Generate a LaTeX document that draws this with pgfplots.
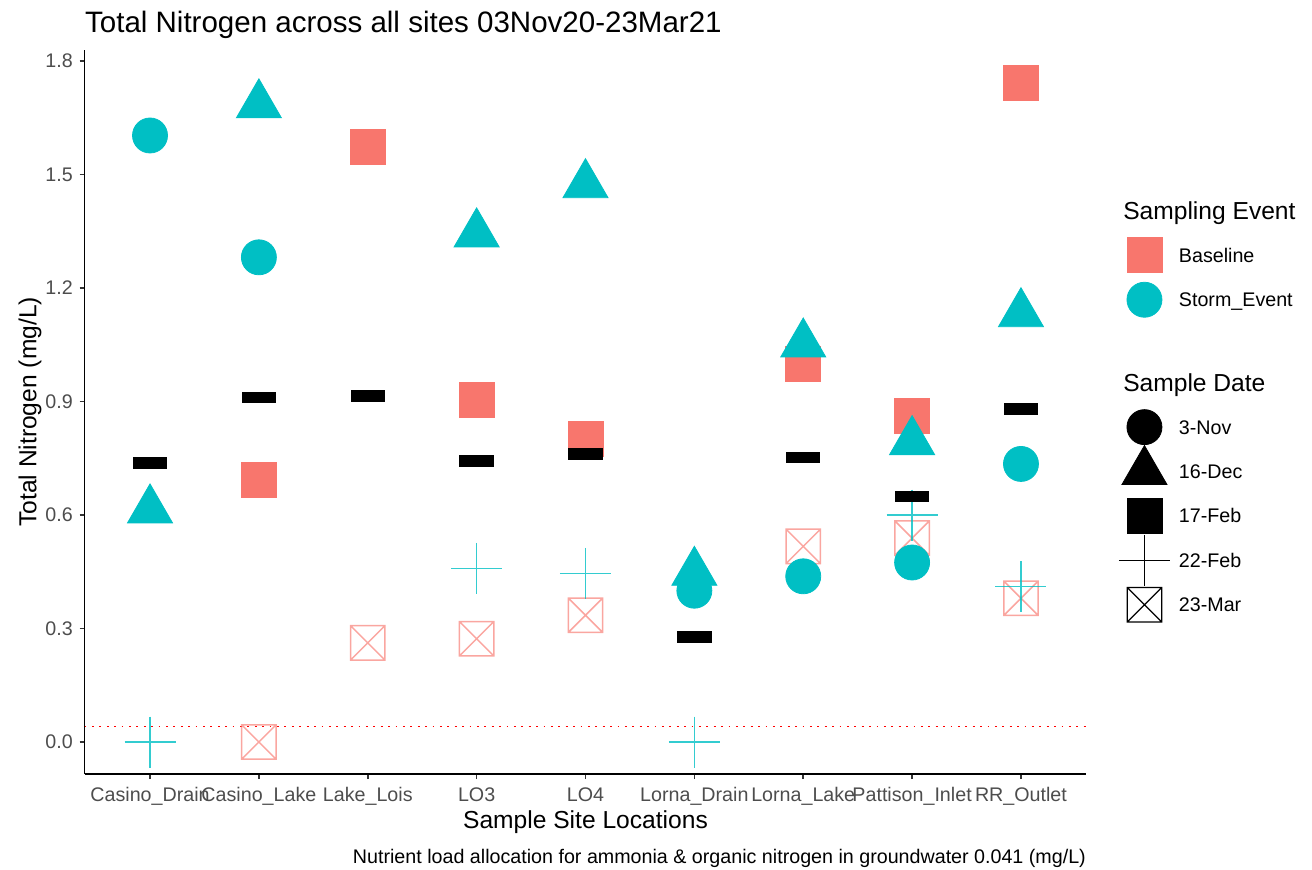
\documentclass[border=0pt]{standalone}
\usepackage{pgfplots}
\pgfplotsset{compat=1.18}
\usepackage{fontspec}
\setmainfont{Liberation Sans}
\usetikzlibrary{plotmarks}
\definecolor{cBase}{HTML}{F8766D}
\definecolor{cStorm}{HTML}{00BFC4}
\definecolor{grey30}{HTML}{4D4D4D}
\definecolor{grey20}{HTML}{333333}
\pgfdeclareplotmark{xbox}{%
  \pgfpathrectangle{\pgfpoint{-\pgfplotmarksize}{-\pgfplotmarksize}}{\pgfpoint{2\pgfplotmarksize}{2\pgfplotmarksize}}%
  \pgfpathmoveto{\pgfpoint{-\pgfplotmarksize}{-\pgfplotmarksize}}\pgfpathlineto{\pgfpoint{\pgfplotmarksize}{\pgfplotmarksize}}%
  \pgfpathmoveto{\pgfpoint{-\pgfplotmarksize}{\pgfplotmarksize}}\pgfpathlineto{\pgfpoint{\pgfplotmarksize}{-\pgfplotmarksize}}%
  \pgfusepathqstroke}
\pgfdeclareplotmark{dash}{%
  \pgfpathrectangle{\pgfpoint{-8.6pt}{-2.9pt}}{\pgfpoint{17.2pt}{5.8pt}}\pgfusepathqfill}
\newcommand{\ticksize}{\fontsize{9.84pt}{11.8pt}\selectfont}
\newcommand{\labsize}{\fontsize{12.3pt}{14.8pt}\selectfont}
\newcommand{\titsize}{\fontsize{14.76pt}{17.7pt}\selectfont}
\begin{document}
\begin{tikzpicture}
\path[use as bounding box] (-42.35pt,-47.4pt) rectangle (613.65pt,387.1pt);
\begin{axis}[
  at={(0pt,0pt)}, anchor=south west,
  width=500.8pt, height=362.3pt, scale only axis,
  xmin=0.4, xmax=9.6, ymin=-0.085, ymax=1.83,
  clip=false,
  axis x line*=bottom, axis y line*=left,
  axis line style={-, line width=0.8pt, black},
  tick align=outside, major tick length=2.5pt,
  tick style={grey20, line width=0.8pt},
  xtick={1,2,3,4,5,6,7,8,9},
  xticklabels={Casino\_Drain,Casino\_Lake,Lake\_Lois,LO3,LO4,Lorna\_Drain,Lorna\_Lake,Pattison\_Inlet,RR\_Outlet},
  ytick={0,0.3,0.6,0.9,1.2,1.5,1.8},
  /pgf/number format/assume math mode=true,
  yticklabel style={font=\ticksize, text=grey30, inner sep=0pt, anchor=east, xshift=-3.3pt,
    /pgf/number format/.cd, fixed, fixed zerofill, precision=1},
  xticklabel style={font=\ticksize, text=grey30, inner sep=0pt, anchor=north, text height=7.05pt, text depth=0pt, yshift=-3.9pt},
  xlabel={Sample Site Locations},
  ylabel={Total Nitrogen (mg/L)},
  xlabel style={at={(axis description cs:0.5,-0.0754)}, anchor=base, inner sep=0pt, font=\labsize, text=black},
  ylabel style={at={(axis description cs:-0.0545,0.5)}, anchor=center, rotate=0, inner sep=0pt, font=\labsize, text=black},
  title={Total Nitrogen across all sites 03Nov20-23Mar21},
  title style={at={(axis description cs:0,1.0065)}, anchor=base west, inner sep=0pt, font=\titsize, text=black},
  legend cell align=left,
  legend style={at={(1.0369,0.808)}, anchor=north west, draw=none, fill=none,
    inner sep=0pt, outer sep=0pt, row sep=0pt, column sep=0pt, font=\ticksize, text=black,
    nodes={inner sep=0pt, text height=7.05pt, text depth=0pt, anchor=west}},
]
% reference line
\addplot[red, line width=0.9pt, dash pattern=on 0.9pt off 2.8pt, forget plot] coordinates {(0.4,0.041) (9.6,0.041)};
% Baseline 17-Feb (squares)
\addplot[only marks, mark=square*, mark size=8.75pt, color=cBase, mark options={draw=none, fill=cBase}, forget plot]
  coordinates {(2,0.693) (3,1.573) (4,0.904) (5,0.801) (7,1.000) (8,0.863) (9,1.743)};
% Baseline 23-Mar (boxed x)
\addplot[only marks, mark=xbox, mark size=8.6pt, color=cBase, mark options={draw=cBase, line width=0.75pt, draw opacity=0.65}, forget plot]
  coordinates {(2,0.000) (3,0.262) (4,0.273) (5,0.335) (7,0.517) (8,0.539) (9,0.380)};
% Storm 3-Nov (circles)
\addplot[only marks, mark=*, mark size=8.75pt, color=cStorm, mark options={draw=none, fill=cStorm}, forget plot]
  coordinates {(1,1.603) (2,1.281) (6,0.400) (7,0.438) (8,0.4745) (9,0.735)};
% Storm 16-Dec (triangles)
\addplot[only marks, mark=triangle*, mark size=13pt, color=cStorm, mark options={draw=none, fill=cStorm}, forget plot]
  coordinates {(1,0.6135) (2,1.684) (4,1.343) (5,1.473) (6,0.4486) (7,1.052) (8,0.794) (9,1.132)};
% Storm 22-Feb (plus)
\addplot[only marks, mark=+, mark size=12.75pt, color=cStorm, mark options={draw=cStorm, line width=0.75pt, draw opacity=0.8}, forget plot]
  coordinates {(1,0.000) (4,0.459) (5,0.446) (6,0.000) (8,0.600) (9,0.4106)};
% 17-Feb black dashes
\addplot[only marks, mark=dash, color=black, mark options={fill=black, draw=none}, forget plot]
  coordinates {(1,0.738) (2,0.911) (3,0.915) (4,0.743) (5,0.7605) (6,0.278) (7,0.7516) (8,0.649) (9,0.8795)};
% legend
\addlegendimage{legend image code/.code={\path[draw=none,fill=none] (0pt,-11.1pt) rectangle (27.85pt,11.1pt);
  \node[overlay,anchor=west,inner sep=0pt,text height=8.8pt,text depth=0pt,font=\labsize,text=black,draw=none] at (0pt,0pt) {Sampling Event};}}
\addlegendentry{}
\addlegendimage{legend image code/.code={\path[draw=none,fill=none] (0pt,-11.1pt) rectangle (27.85pt,11.1pt);
  \draw[overlay,cBase] plot[only marks, mark=square*, mark size=8.75pt, mark options={draw=none,fill=cBase}] coordinates {(10.6pt,0pt)};}}
\addlegendentry{Baseline}
\addlegendimage{legend image code/.code={\path[draw=none,fill=none] (0pt,-11.1pt) rectangle (27.85pt,11.1pt);
  \draw[overlay,cStorm] plot[only marks, mark=*, mark size=8.75pt, mark options={draw=none,fill=cStorm}] coordinates {(10.6pt,0pt)};}}
\addlegendentry{Storm\_Event}
\addlegendimage{legend image code/.code={\path[draw=none,fill=none] (0pt,-9.65pt) rectangle (27.85pt,9.65pt);}}
\addlegendentry{}
\addlegendimage{legend image code/.code={\path[draw=none,fill=none] (0pt,-11.1pt) rectangle (27.85pt,11.1pt);
  \node[overlay,anchor=west,inner sep=0pt,text height=8.8pt,text depth=0pt,font=\labsize,text=black,draw=none] at (0pt,0pt) {Sample Date};}}
\addlegendentry{}
\addlegendimage{legend image code/.code={\path[draw=none,fill=none] (0pt,-11.1pt) rectangle (27.85pt,11.1pt);
  \draw[overlay,black] plot[only marks, mark=*, mark size=8.75pt, mark options={draw=none,fill=black}] coordinates {(10.6pt,0pt)};}}
\addlegendentry{3-Nov}
\addlegendimage{legend image code/.code={\path[draw=none,fill=none] (0pt,-11.1pt) rectangle (27.85pt,11.1pt);
  \draw[overlay,black] plot[only marks, mark=triangle*, mark size=13pt, mark options={draw=none,fill=black}] coordinates {(10.6pt,0pt)};}}
\addlegendentry{16-Dec}
\addlegendimage{legend image code/.code={\path[draw=none,fill=none] (0pt,-11.1pt) rectangle (27.85pt,11.1pt);
  \draw[overlay,black] plot[only marks, mark=square*, mark size=8.75pt, mark options={draw=none,fill=black}] coordinates {(10.6pt,0pt)};}}
\addlegendentry{17-Feb}
\addlegendimage{legend image code/.code={\path[draw=none,fill=none] (0pt,-11.1pt) rectangle (27.85pt,11.1pt);
  \draw[overlay,black] plot[only marks, mark=+, mark size=12.75pt, mark options={draw=black,line width=0.6pt}] coordinates {(10.6pt,0pt)};}}
\addlegendentry{22-Feb}
\addlegendimage{legend image code/.code={\path[draw=none,fill=none] (0pt,-11.1pt) rectangle (27.85pt,11.1pt);
  \draw[overlay,black] plot[only marks, mark=xbox, mark size=8.6pt, mark options={draw=black,line width=0.6pt}] coordinates {(10.6pt,0pt)};}}
\addlegendentry{23-Mar}
% caption
\node[anchor=base east, inner sep=0pt, font=\ticksize, text=black] at (axis description cs:1,-0.1226)
  {Nutrient load allocation for ammonia \& organic nitrogen in groundwater 0.041 (mg/L)};
\end{axis}
\end{tikzpicture}
\end{document}
